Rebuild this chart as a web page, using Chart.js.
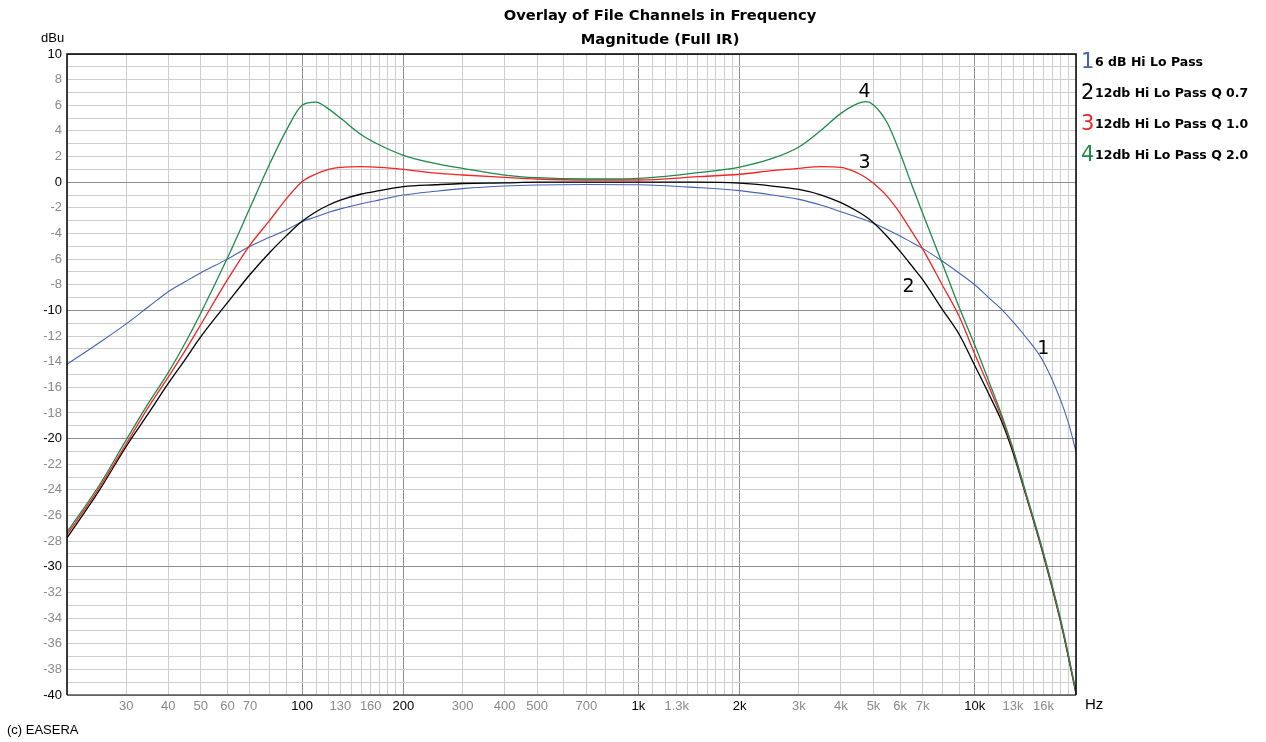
<!DOCTYPE html>
<html>
<head>
<meta charset="utf-8">
<title>Overlay of File Channels in Frequency</title>
<script src="https://cdn.jsdelivr.net/npm/chart.js@4.4.0/dist/chart.umd.min.js"></script>
<style>
    html, body { margin: 0; padding: 0; background: #fff; overflow: hidden; }
    #wrap { position: relative; width: 1266px; height: 742px; }
</style>
</head>
<body>
<div id="wrap"><canvas id="freqChart"></canvas></div>
<script>
// Frequencies (Hz) the curves were read at
const freqs = [20, 25, 30, 35, 40, 45, 50, 60, 70, 80, 90, 100, 110, 120, 130, 150, 170, 200,
    250, 300, 400, 500, 700, 1000, 1500, 2000, 2500, 3000, 3500, 4000, 4500, 4750, 5000, 5500,
    6000, 6500, 7000, 8000, 9000, 10000, 11000, 12000, 13000, 14000, 16000, 18000, 19000, 20000];

// Magnitude in dBu for each channel
const ch1 = [-14.2, -12.5, -11.05, -9.7, -8.54, -7.75, -7.06, -6.0, -5.0, -4.3, -3.7, -3.08, -2.7, -2.35, -2.08, -1.68, -1.38, -1.0,
    -0.7, -0.5, -0.3, -0.22, -0.18, -0.2, -0.42, -0.66, -1.0, -1.34, -1.8, -2.3, -2.75, -2.97, -3.2, -3.7,
    -4.2, -4.7, -5.16, -6.15, -7.1, -8.0, -9.0, -9.9, -10.9, -11.9, -14.0, -17.0, -18.8, -21.0];
const ch2 = [-27.75, -24.0, -20.6, -18.0, -15.7, -13.8, -12.05, -9.4, -7.2, -5.5, -4.15, -3.05, -2.3, -1.78, -1.4, -0.92, -0.66, -0.35,
    -0.2, -0.1, -0.05, 0, 0, 0, 0, -0.08, -0.3, -0.56, -1.0, -1.6, -2.3, -2.7, -3.16, -4.25,
    -5.4, -6.53, -7.6, -9.9, -11.9, -14.3, -16.5, -18.6, -21.1, -23.9, -29.1, -34.3, -37.1, -39.9];
const ch3 = [-27.5, -23.8, -20.4, -17.5, -15.2, -13.1, -11.1, -7.6, -4.9, -3.0, -1.26, 0.04, 0.64, 1.0, 1.16, 1.21, 1.16, 1.0,
    0.7, 0.56, 0.38, 0.25, 0.17, 0.17, 0.43, 0.62, 0.9, 1.08, 1.21, 1.16, 0.7, 0.35, -0.09, -1.13,
    -2.43, -3.86, -5.2, -8.0, -10.5, -13.4, -15.9, -18.3, -20.9, -23.8, -29.0, -34.2, -37.0, -39.8];
const ch4 = [-27.3, -23.6, -20.1, -17.2, -14.85, -12.5, -10.2, -5.9, -2.0, 1.4, 4.1, 6.0, 6.25, 5.7, 5.0, 3.7, 2.9, 2.1,
    1.45, 1.08, 0.56, 0.35, 0.25, 0.3, 0.74, 1.18, 1.85, 2.75, 4.07, 5.37, 6.15, 6.28, 6.02, 4.6,
    2.25, -0.22, -2.43, -6.3, -9.8, -12.7, -15.5, -18.1, -20.8, -23.7, -28.9, -34.1, -36.9, -39.8];

const channelNames = ['6 dB Hi Lo Pass', '12db Hi Lo Pass Q 0.7', '12db Hi Lo Pass Q 1.0', '12db Hi Lo Pass Q 2.0'];
const channelColors = ['#4563b5', '#000000', '#f22424', '#1f8a4c'];

// Frequency axis labels, the black ones mark the darker grid lines
const freqLabels = [[30, '30'], [40, '40'], [50, '50'], [60, '60'], [70, '70'], [100, '100'], [130, '130'],
    [160, '160'], [200, '200'], [300, '300'], [400, '400'], [500, '500'], [700, '700'], [1000, '1k'],
    [1300, '1.3k'], [2000, '2k'], [3000, '3k'], [4000, '4k'], [5000, '5k'], [6000, '6k'], [7000, '7k'],
    [10000, '10k'], [13000, '13k'], [16000, '16k']];
const freqMajors = [100, 200, 1000, 2000, 10000];
const dbMajors = [10, 0, -10, -20, -30, -40];

// Curve number tags placed next to the curves (Hz, dBu)
const curveTags = [['1', 16000, -13.0], ['2', 6350, -8.2], ['3', 4700, 1.5], ['4', 4700, 7.05]];

// grid: 30..90, every 10 Hz up to 200, 300..900, every 100 Hz up to 2k, 3k..9k, every 1k up to 20k
const freqGrid = [20];
for (let v = 30; v < 100; v += 10) freqGrid.push(v);
for (let v = 100; v < 200; v += 10) freqGrid.push(v);
for (let v = 200; v < 1000; v += 100) freqGrid.push(v);
for (let v = 1000; v < 2000; v += 100) freqGrid.push(v);
for (let v = 2000; v < 10000; v += 1000) freqGrid.push(v);
for (let v = 10000; v <= 20000; v += 1000) freqGrid.push(v);

const labelMap = new Map(freqLabels);

function points(values) {
    return freqs.map((f, i) => ({ x: f, y: values[i] }));
}

// Text, frame and legend drawn on top of the plot
const overlayText = {
    id: 'overlayText',
    afterDraw(chart) {
        const { ctx, chartArea: a, scales } = chart;
        ctx.save();

        // plot frame
        ctx.lineWidth = 1.5;
        ctx.strokeStyle = '#555';
        ctx.beginPath();
        ctx.moveTo(a.left, a.bottom);
        ctx.lineTo(a.right, a.bottom);
        ctx.stroke();
        ctx.strokeStyle = '#000';
        ctx.beginPath();
        ctx.moveTo(a.left, a.bottom);
        ctx.lineTo(a.left, a.top);
        ctx.lineTo(a.right, a.top);
        ctx.lineTo(a.right, a.bottom);
        ctx.stroke();

        // title
        ctx.fillStyle = '#000';
        ctx.textAlign = 'center';
        ctx.textBaseline = 'middle';
        ctx.font = 'bold 14.7px "DejaVu Sans", sans-serif';
        ctx.fillText('Overlay of File Channels in Frequency', 660, 16);
        ctx.fillText('Magnitude (Full IR)', 660, 40);

        // units and credit
        ctx.font = '13px "Liberation Sans", Arial, sans-serif';
        ctx.textAlign = 'left';
        ctx.fillText('dBu', 41, 38);
        ctx.font = '15px "Liberation Sans", Arial, sans-serif';
        ctx.fillText('Hz', 1085, 705);
        ctx.font = '13px "Liberation Sans", Arial, sans-serif';
        ctx.fillText('(c) EASERA', 7, 730);

        // curve numbers
        ctx.textAlign = 'center';
        ctx.font = '19px "DejaVu Sans", sans-serif';
        curveTags.forEach(t => {
            ctx.fillText(t[0], scales.x.getPixelForValue(t[1]), scales.y.getPixelForValue(t[2]));
        });

        // legend on the right
        channelNames.forEach((name, i) => {
            const yy = 63 + i * 31;
            ctx.textAlign = 'left';
            ctx.fillStyle = channelColors[i];
            ctx.font = '21px "DejaVu Sans", sans-serif';
            ctx.fillText(String(i + 1), 1081, yy);
            ctx.fillStyle = '#000';
            ctx.font = 'bold 12.5px "DejaVu Sans", sans-serif';
            ctx.fillText(name, 1095, yy);
        });
        ctx.restore();
    }
};

document.addEventListener('DOMContentLoaded', function() {
    const ctx = document.getElementById('freqChart').getContext('2d');
    const datasets = channelNames.map((name, i) => ({
        label: name,
        data: points([ch1, ch2, ch3, ch4][i]),
        borderColor: channelColors[i],
        borderWidth: i === 0 ? 1.1 : 1.3,
        pointRadius: 0,
        fill: false,
        cubicInterpolationMode: 'monotone',
        order: 4 - i
    }));

    new Chart(ctx, {
        type: 'line',
        data: { datasets: datasets },
        options: {
            responsive: true,
            maintainAspectRatio: false,
            animation: false,
            parsing: false,
            layout: { padding: { top: 54, right: 190, left: 0, bottom: 0 } },
            plugins: {
                legend: { display: false },
                title: { display: false },
                tooltip: { enabled: false }
            },
            scales: {
                x: {
                    type: 'logarithmic',
                    min: 20,
                    max: 20000,
                    afterBuildTicks: scale => {
                        scale.ticks = freqGrid.map(v => ({ value: v }));
                    },
                    afterFit: scale => { scale.height = 47; },
                    grid: {
                        color: c => freqMajors.includes(c.tick && c.tick.value) ? '#8e8e8e' : '#cdcdcd',
                        lineWidth: 1,
                        drawTicks: false
                    },
                    border: { display: false },
                    ticks: {
                        autoSkip: false,
                        maxRotation: 0,
                        padding: 4,
                        font: { family: '"Liberation Sans", Arial, sans-serif', size: 13 },
                        color: c => freqMajors.includes(c.tick && c.tick.value) ? '#000' : '#8a8a8a',
                        callback: value => labelMap.get(value) || ''
                    }
                },
                y: {
                    min: -40,
                    max: 10,
                    afterBuildTicks: scale => {
                        const t = [];
                        for (let v = -40; v <= 10; v++) t.push({ value: v });
                        scale.ticks = t;
                    },
                    afterFit: scale => { scale.width = 67; },
                    grid: {
                        color: c => dbMajors.includes(c.tick && c.tick.value) ? '#8e8e8e' : '#cdcdcd',
                        lineWidth: 1,
                        drawTicks: false
                    },
                    border: { display: false },
                    ticks: {
                        autoSkip: false,
                        padding: 5,
                        font: { family: '"Liberation Sans", Arial, sans-serif', size: 13 },
                        color: c => dbMajors.includes(c.tick && c.tick.value) ? '#000' : '#8a8a8a',
                        callback: value => (value % 2 === 0 ? String(value) : '')
                    }
                }
            }
        },
        plugins: [overlayText]
    });
});
</script>
</body>
</html>
